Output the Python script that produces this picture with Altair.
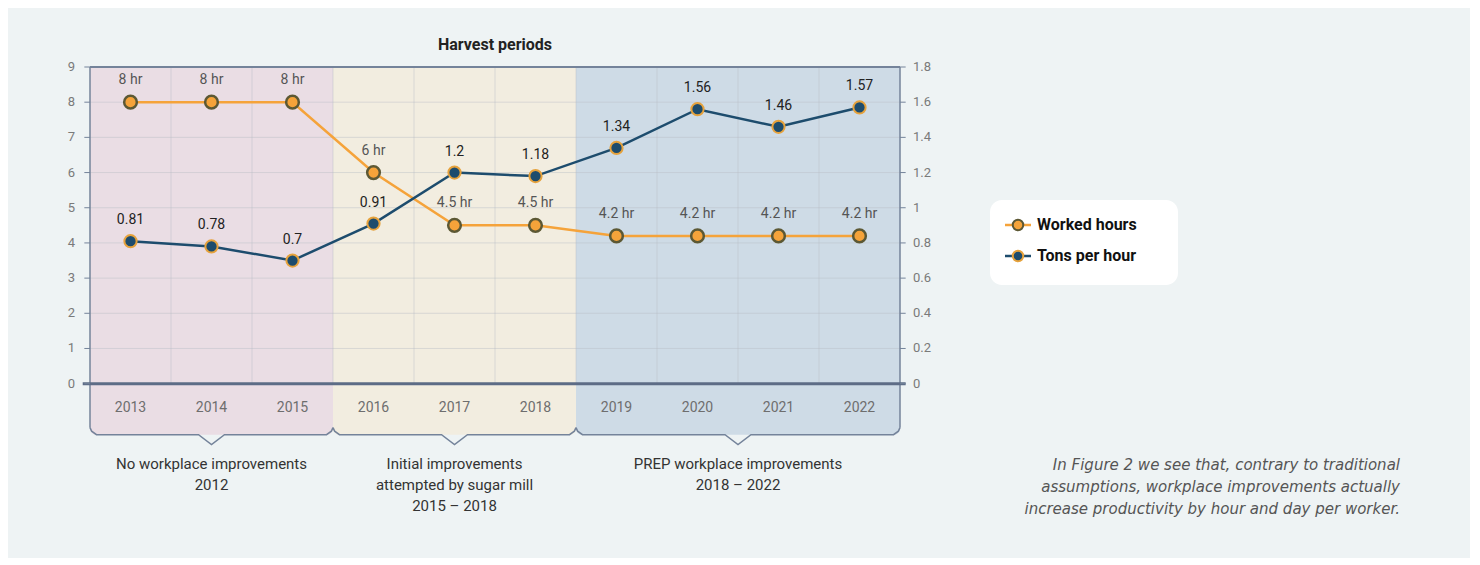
import altair as alt
import pandas as pd

# ---------------- data ----------------
years = [2013, 2014, 2015, 2016, 2017, 2018, 2019, 2020, 2021, 2022]
worked_hours = [8, 8, 8, 6, 4.5, 4.5, 4.2, 4.2, 4.2, 4.2]
tons_per_hour = [0.81, 0.78, 0.7, 0.91, 1.2, 1.18, 1.34, 1.56, 1.46, 1.57]
hour_labels = ["8 hr", "8 hr", "8 hr", "6 hr", "4.5 hr", "4.5 hr", "4.2 hr", "4.2 hr", "4.2 hr", "4.2 hr"]
tons_labels = ["0.81", "0.78", "0.7", "0.91", "1.2", "1.18", "1.34", "1.56", "1.46", "1.57"]
left_ticks = [0, 1, 2, 3, 4, 5, 6, 7, 8, 9]
right_ticks = [0, 0.2, 0.4, 0.6, 0.8, 1, 1.2, 1.4, 1.6, 1.8]
period_names = [
    "No workplace improvements\n2012",
    "Initial improvements\nattempted by sugar mill\n2015 – 2018",
    "PREP workplace improvements\n2018 – 2022",
]
period_first = [2013, 2016, 2019]
period_last = [2015, 2018, 2022]
period_colors = ["#eadde4", "#f2ede0", "#cedbe6"]
series_names = ["Worked hours", "Tons per hour"]
caption_lines = [
    "In Figure 2 we see that, contrary to traditional",
    "assumptions, workplace improvements actually",
    "increase productivity by hour and day per worker.",
]
title_text = "Harvest periods"

# ---------------- styling ----------------
ORANGE = "#f5a33a"
ORANGE_EDGE = "#5c5834"
BLUE = "#1d4c6d"
BLUE_EDGE = "#e6a23c"
AXIS_COL = "#74839a"
LABEL_COL = "#7a7a7a"
FONT = "Roboto"

# ---------------- tables ----------------
df = pd.DataFrame({"year": years, "hours": worked_hours, "tons": tons_per_hour,
                   "hlab": hour_labels, "tlab": tons_labels})
bands = pd.DataFrame({
    "start": [f - 0.5 for f in period_first],
    "end": [l + 0.5 for l in period_last],
    "color": period_colors,
    "name": period_names,
})
bands["center"] = (bands["start"] + bands["end"]) / 2

BR_SIDE, BR_BOT, BR_TIP = -1.25, -1.45, -1.73
rows = []
for gi, r in bands.iterrows():
    pts = [(r.start, BR_SIDE), (r.start + 0.02, BR_BOT + 0.1), (r.start + 0.08, BR_BOT),
           (r.center - 0.16, BR_BOT), (r.center, BR_TIP), (r.center + 0.16, BR_BOT),
           (r.end - 0.08, BR_BOT), (r.end - 0.02, BR_BOT + 0.1), (r.end, BR_SIDE)]
    for k, (px, py) in enumerate(pts):
        rows.append({"g": int(gi), "k": k, "bx": float(px), "by": float(py)})
bracket_df = pd.DataFrame(rows)

xmin, xmax = float(bands["start"].min()), float(bands["end"].max())
grid_h = pd.DataFrame({"v": [t for t in left_ticks if 0 < t < 9]})
grid_v = pd.DataFrame({"v": [y + 0.5 for y in years[:-1]]})
edges = pd.DataFrame({"v": [xmin, xmax]})
lt_df = pd.DataFrame({"v": left_ticks})
rt_df = pd.DataFrame({"v": right_ticks})
legend_df = pd.DataFrame({"name": series_names})
caption_df = pd.DataFrame({"text": ["\n".join(caption_lines)]})
one = pd.DataFrame({"a": [1]})

X = alt.Scale(domain=[xmin, xmax], nice=False, zero=False)
YL = alt.Scale(domain=[-1.8, 9], nice=False, zero=False)
YR = alt.Scale(domain=[-0.36, 1.8], nice=False, zero=False)
TICK = 0.07  # tick length in year units (about 5-6 px)


def xf(field):
    return alt.X(field, scale=X, axis=None)


def xd(v):
    return alt.XDatum(v, scale=X, axis=None)


def yf(field):
    return alt.Y(field, scale=YL, axis=None)


def yd(v):
    return alt.YDatum(v, scale=YL, axis=None)


def yr(field):
    return alt.Y(field, scale=YR, axis=None)


# ---------------- left-scale layers ----------------
band_layer = alt.Chart(bands).mark_rect(cornerRadiusBottomLeft=6, cornerRadiusBottomRight=6).encode(
    x=xf("start:Q"), x2="end:Q", y=yd(9), y2=alt.Y2Datum(BR_BOT),
    color=alt.Color("color:N", scale=None),
)
hgrid = alt.Chart(grid_h).mark_rule(color="#b9bcc6", strokeWidth=1, opacity=0.45).encode(
    x=xd(xmin), x2=alt.X2Datum(xmax), y=yf("v:Q"),
)
vgrid = alt.Chart(grid_v).mark_rule(color="#b9bcc6", strokeWidth=1, opacity=0.45).encode(
    x=xf("v:Q"), y=yd(0), y2=alt.Y2Datum(9),
)
edge_rules = alt.Chart(edges).mark_rule(color=AXIS_COL, strokeWidth=1.5).encode(
    x=xf("v:Q"), y=yd(9), y2=alt.Y2Datum(BR_SIDE),
)
top_rule = alt.Chart(one).mark_rule(color=AXIS_COL, strokeWidth=2).encode(
    x=xd(xmin), x2=alt.X2Datum(xmax), y=yd(9),
)
zero_rule = alt.Chart(one).mark_rule(color="#5d6c86", strokeWidth=3).encode(
    x=xd(xmin - 0.09), x2=alt.X2Datum(xmax + 0.07), y=yd(0),
)
left_ticks_l = alt.Chart(lt_df).mark_rule(color=AXIS_COL, strokeWidth=1).encode(
    x=xd(xmin - TICK), x2=alt.X2Datum(xmin), y=yf("v:Q"),
)
left_labels = alt.Chart(lt_df).mark_text(font=FONT, fontSize=13, color=LABEL_COL, align="right",
                                         baseline="middle", dx=-15).encode(
    x=xd(xmin), y=yf("v:Q"), text="v:Q",
)
bracket = alt.Chart(bracket_df).mark_line(color=AXIS_COL, strokeWidth=1.5).encode(
    x=xf("bx:Q"), y=yf("by:Q"), detail="g:N", order="k:Q",
)
year_text = alt.Chart(df).mark_text(font=FONT, fontSize=14, color="#6e6e6e").encode(
    x=xf("year:Q"), y=yd(-0.68), text="year:N",
)
group_text = alt.Chart(bands).mark_text(font=FONT, fontSize=15, color="#333333", lineBreak="\n",
                                        lineHeight=21, baseline="top").encode(
    x=xf("center:Q"), y=yd(-2.07), text="name:N",
)
hours_line = alt.Chart(df).mark_line(color=ORANGE, strokeWidth=2.5).encode(
    x=xf("year:Q"), y=yf("hours:Q"),
)
hours_pts = alt.Chart(df).mark_circle(size=160, fill=ORANGE, stroke=ORANGE_EDGE, strokeWidth=2.5,
                                      opacity=1).encode(x=xf("year:Q"), y=yf("hours:Q"))
hours_txt = alt.Chart(df).mark_text(font=FONT, fontSize=14, color="#555555", dy=-22).encode(
    x=xf("year:Q"), y=yf("hours:Q"), text="hlab:N",
)

# legend + caption (placed in pixels, outside the plot area)
leg_box = alt.Chart(one).mark_rect(fill="white", cornerRadius=12).encode(
    x=alt.value(900), x2=alt.value(1088), y=alt.value(133), y2=alt.value(218),
)
leg_layers = [leg_box]
for i, (col, fill, edge, ypx) in enumerate([(ORANGE, ORANGE, ORANGE_EDGE, 158),
                                            (BLUE, BLUE, BLUE_EDGE, 189)]):
    sub = legend_df.iloc[[i]]
    leg_layers.append(alt.Chart(sub).mark_rule(color=col, strokeWidth=2.5).encode(
        x=alt.value(915), x2=alt.value(941), y=alt.value(ypx)))
    leg_layers.append(alt.Chart(sub).mark_circle(size=110, fill=fill, stroke=edge, strokeWidth=2,
                                                 opacity=1).encode(
        x=alt.value(928), y=alt.value(ypx)))
    leg_layers.append(alt.Chart(sub).mark_text(font=FONT, fontSize=16, fontWeight="bold",
                                               color="#111111", align="left",
                                               baseline="middle").encode(
        x=alt.value(947), y=alt.value(ypx), text="name:N"))
caption = alt.Chart(caption_df).mark_text(font="DejaVu Sans", fontSize=15, fontStyle="italic",
                                          color="#555555", align="right", baseline="top",
                                          lineHeight=22, lineBreak="\n").encode(
    x=alt.value(1310), y=alt.value(391), text="text:N",
)

left = alt.layer(band_layer, hgrid, vgrid, edge_rules, top_rule, zero_rule, left_ticks_l,
                 left_labels, bracket, year_text, group_text, hours_line, hours_pts, hours_txt,
                 *leg_layers, caption)

# ---------------- right-scale layers ----------------
right_ticks_l = alt.Chart(rt_df).mark_rule(color=AXIS_COL, strokeWidth=1).encode(
    x=xd(xmax), x2=alt.X2Datum(xmax + TICK), y=yr("v:Q"),
)
right_labels = alt.Chart(rt_df).mark_text(font=FONT, fontSize=13, color=LABEL_COL, align="left",
                                          baseline="middle", dx=13).encode(
    x=xd(xmax), y=yr("v:Q"), text=alt.Text("v:Q", format="~g"),
)
tons_line = alt.Chart(df).mark_line(color=BLUE, strokeWidth=2.5).encode(
    x=xf("year:Q"), y=yr("tons:Q"),
)
tons_pts = alt.Chart(df).mark_circle(size=150, fill=BLUE, stroke=BLUE_EDGE, strokeWidth=2,
                                     opacity=1).encode(x=xf("year:Q"), y=yr("tons:Q"))
tons_txt = alt.Chart(df).mark_text(font=FONT, fontSize=14, color="#222222", dy=-21).encode(
    x=xf("year:Q"), y=yr("tons:Q"), text="tlab:N",
)
right = alt.layer(right_ticks_l, right_labels, tons_line, tons_pts, tons_txt)

chart = alt.layer(left, right).resolve_scale(y="independent").properties(
    width=810, height=380,
    title=alt.TitleParams(title_text, font=FONT, fontSize=16, fontWeight="bold",
                          color="#222222", anchor="middle", offset=8),
    autosize=alt.AutoSizeParams(type="none"),
    padding={"left": 82, "top": 59, "right": 570, "bottom": 111},
    background="#eef3f4",
).configure_view(stroke=None)

chart.save("out.html", embed_options={"renderer": "svg", "actions": False})
